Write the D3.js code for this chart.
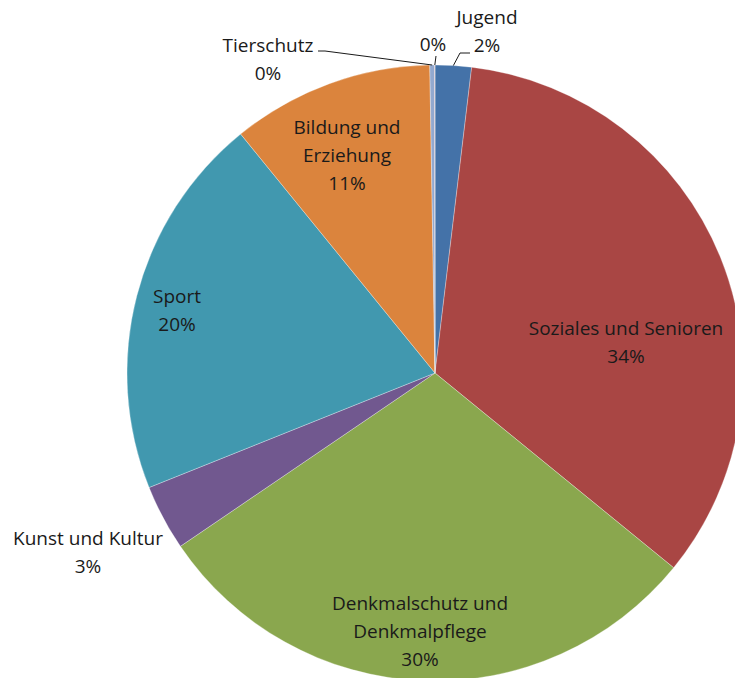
<!DOCTYPE html>
<html lang="de">
<head>
<script src="https://d3js.org/d3.v7.min.js"></script>
<style>
  body { margin: 0; background: #fff; }
  text { font-family: "Open Sans", Lato, sans-serif; fill: #1a1a1a; }
</style>
</head>
<body>
<script>
    const categories = ["Jugend", "Soziales und Senioren", "Denkmalschutz und Denkmalpflege", "Kunst und Kultur", "Sport", "Bildung und Erziehung", "Tierschutz", ""];
    const values = [1.9, 34.0, 29.6, 3.45, 20.2, 10.6, 0.25, 0.02];
    const percentLabels = ["2%", "34%", "30%", "3%", "20%", "11%", "0%", "0%"];
    const colors = ["#4472a8", "#a94644", "#8aa74e", "#71588f", "#4198af", "#db843d", "#93a9cf", "#d09392"];

    // label lines, hand placed like the original
    const labelLines = [
        ["Jugend", "2%"],
        ["Soziales und Senioren", "34%"],
        ["Denkmalschutz und", "Denkmalpflege", "30%"],
        ["Kunst und Kultur", "3%"],
        ["Sport", "20%"],
        ["Bildung und", "Erziehung", "11%"],
        ["Tierschutz", "0%"],
        ["0%"]
    ];
    const labelPos = [[487, 17], [626, 328], [420, 603], [88, 538], [177, 296], [347, 127], [268, 45], [433, 44]];

    const width = 735, height = 678;
    const cx = 435, cy = 373, radius = 308;
    const lineH = 28;

    const svg = d3.select("body").append("svg")
        .attr("width", width)
        .attr("height", height);

    const pie = d3.pie().sort(null).value(d => d);
    const arcs = pie(values);
    const arc = d3.arc().innerRadius(0).outerRadius(radius);

    const g = svg.append("g").attr("transform", "translate(" + cx + "," + cy + ")");

    g.selectAll("path")
        .data(arcs)
        .enter()
        .append("path")
        .attr("d", arc)
        .attr("fill", (d, i) => colors[i])
        .attr("stroke", "rgba(255,255,255,0.5)")
        .attr("stroke-width", 0.6);

    // leader lines for the small slices at the top
    function edgePoint(i) {
        const a = (arcs[i].startAngle + arcs[i].endAngle) / 2;
        return [cx + radius * Math.sin(a), cy - radius * Math.cos(a)];
    }
    const leaders = [
        { i: 0, pts: [[470, 53], [460, 53]] },
        { i: 6, pts: [[318, 51], [325, 51]] },
        { i: 7, pts: [[436, 56]] }
    ];
    leaders.forEach(l => {
        const p = l.pts.concat([edgePoint(l.i)]);
        svg.append("path")
            .attr("d", d3.line()(p))
            .attr("fill", "none")
            .attr("stroke", "#1a1a1a")
            .attr("stroke-width", 1);
    });

    const labels = svg.selectAll("text.lbl")
        .data(labelLines)
        .enter()
        .append("text")
        .attr("class", "lbl")
        .attr("text-anchor", "middle")
        .attr("font-size", 19)
        .attr("transform", (d, i) => "translate(" + labelPos[i][0] + "," + labelPos[i][1] + ")");

    labels.selectAll("tspan")
        .data(d => d)
        .enter()
        .append("tspan")
        .attr("x", 0)
        .attr("y", (d, j) => j * lineH)
        .attr("dy", "0.35em")
        .text(d => d);
</script>
</body>
</html>
